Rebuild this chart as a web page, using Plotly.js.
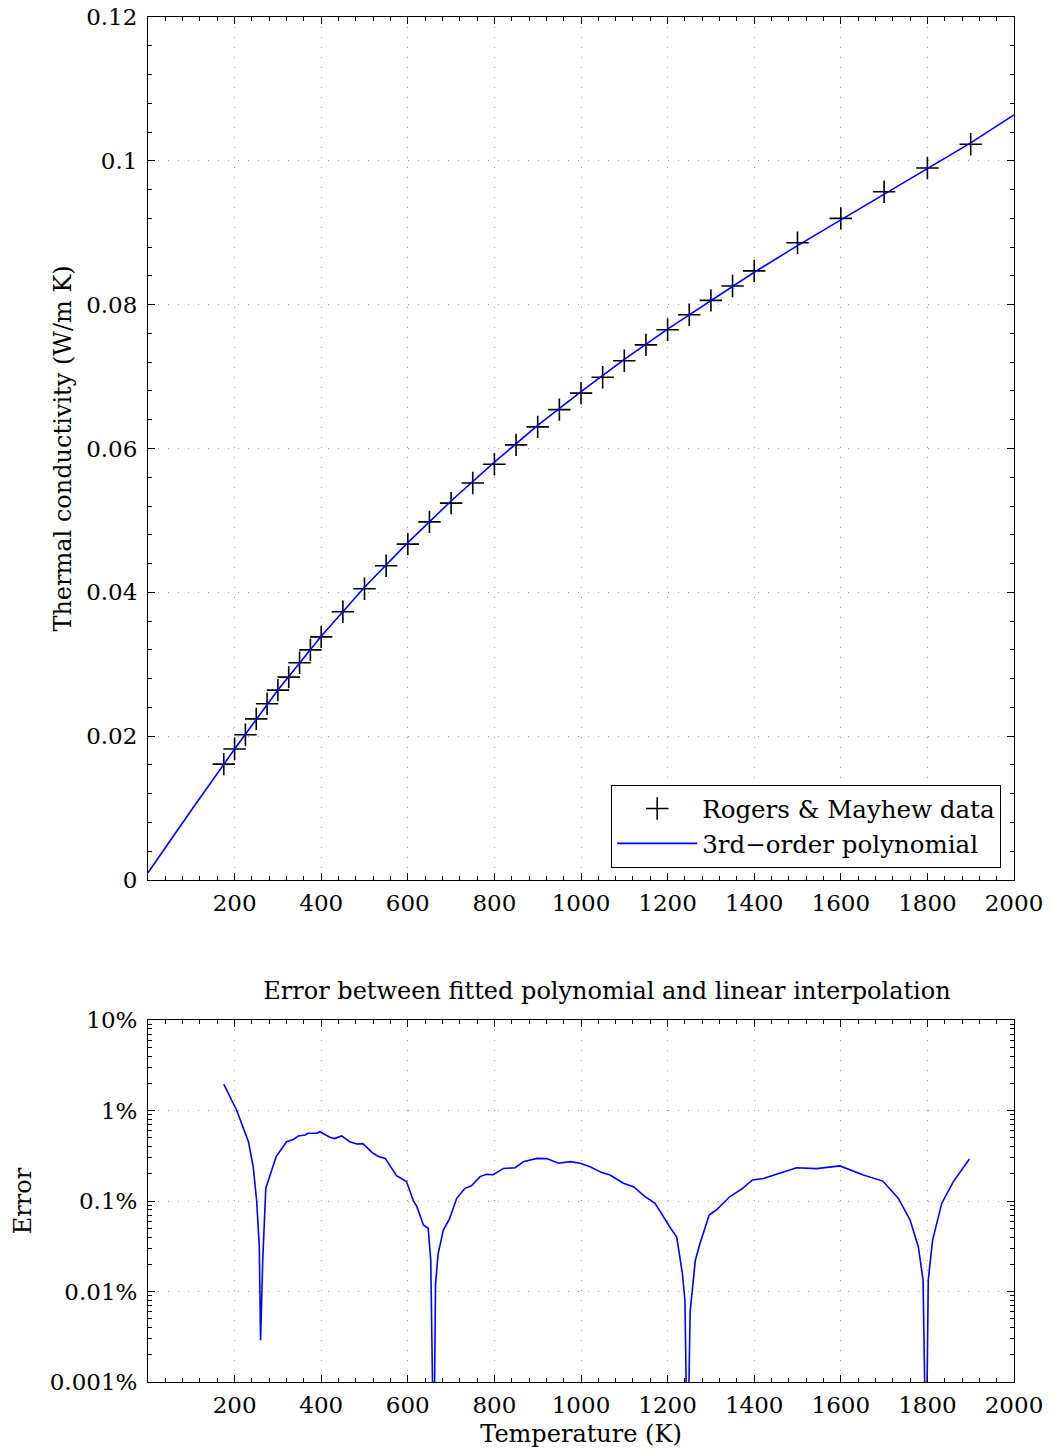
<!DOCTYPE html>
<html>
<head>
<meta charset="utf-8">
<script src="https://cdn.plot.ly/plotly-3.0.1.min.js"></script>
<style>html,body{margin:0;padding:0;background:#fff;}#chart{width:1051px;height:1452px;}</style>
</head>
<body>
<div id="chart"></div>
<script>
// Rogers & Mayhew data (T in K, k in W/m K)
const dataT = [175,200,225,250,275,300,325,350,375,400,450,500,550,600,650,700,750,800,850,900,950,1000,1050,1100,1150,1200,1250,1300,1350,1400,1500,1600,1700,1800,1900];
const dataK = [0.0161,0.0182,0.0202,0.0224,0.0245,0.0264,0.0282,0.0302,0.0320,0.0338,0.0373,0.0405,0.0437,0.0467,0.0498,0.0524,0.0552,0.0578,0.0605,0.0630,0.0654,0.0677,0.0699,0.0722,0.0744,0.0765,0.0786,0.0806,0.0826,0.0847,0.0886,0.0920,0.0957,0.0990,0.1023];

// 3rd-order polynomial curve
const polyT = [0,100,200,300,400,500,600,700,800,900,1000,1100,1200,1300,1400,1500,1600,1700,1800,1900,2000];
const polyK = [0.0010,0.0097,0.0182,0.0264,0.0339,0.0407,0.0469,0.0527,0.0581,0.0632,0.0679,0.0724,0.0766,0.0806,0.0845,0.0882,0.0918,0.0954,0.0989,0.1025,0.1064];

// Error between fitted polynomial and linear interpolation (fraction)
const errT = [175,205,232,243,251,257,260,265,272,296,320,336,347,363,370,390,397,420,431,447,466,482,496,520,532,548,574,597,613,621,636,647,653,660,664,670,682,696,713,732,747,767,782,797,821,848,867,898,921,948,975,998,1021,1048,1067,1098,1121,1148,1171,1196,1207,1221,1229,1234,1240,1246,1252,1259,1264,1275,1280,1296,1313,1344,1371,1396,1421,1460,1498,1544,1598,1652,1697,1733,1760,1779,1790,1797,1802,1812,1833,1860,1897];
const errV = [0.0196,0.0100,0.00452,0.00239,0.00100,0.000313,0.000029,0.000223,0.00138,0.00309,0.00452,0.00479,0.00524,0.00537,0.0056,0.0056,0.00583,0.00506,0.0049,0.00524,0.00452,0.00427,0.0043,0.00337,0.0031,0.00296,0.0019,0.00164,0.00100,0.000865,0.000543,0.0005,0.000223,0.000001,0.00012,0.00026,0.000478,0.00063,0.00107,0.00138,0.00147,0.00186,0.00197,0.00195,0.00229,0.00233,0.00272,0.00296,0.00294,0.00261,0.00272,0.00261,0.00239,0.00206,0.00194,0.00157,0.00144,0.00112,0.00094,0.0006,0.0005,0.0004,0.000243,0.00016,0.00008,0.000001,0.00006,0.000134,0.00022,0.000341,0.0004,0.0007,0.0008,0.00112,0.00135,0.00171,0.00177,0.00202,0.00233,0.00228,0.00244,0.00194,0.00166,0.00107,0.000617,0.000313,0.000134,0.000001,0.000134,0.00037,0.00094,0.00164,0.00291];

const xTickVals = [200,400,600,800,1000,1200,1400,1600,1800,2000];
const kTickVals = [0,0.02,0.04,0.06,0.08,0.1,0.12];
const kTickText = ['0','0.02','0.04','0.06','0.08','0.1','0.12'];
const eTickVals = [1e-5,1e-4,1e-3,1e-2,1e-1];
const eTickText = ['0.001%','0.01%','0.1%','1%','10%'];

const minorLog = [];
for (let d = -5; d < -1; d++) for (let m = 2; m <= 9; m++) minorLog.push(m * Math.pow(10, d));

const FONT = 'DejaVu Serif, serif';
const gridStyle = {showgrid: true, gridcolor: '#9a9a9a', griddash: '1px,9px', gridwidth: 1};
const axisCommon = Object.assign({
  showline: true, linecolor: '#000', linewidth: 1, mirror: 'allticks',
  ticks: 'inside', ticklen: 7, tickwidth: 1, tickcolor: '#000',
  zeroline: false, tickfont: {family: FONT, size: 23, color: '#000'}
}, gridStyle);
const titleFont = {family: FONT, size: 24, color: '#000'};

const traces = [
  {x: dataT, y: dataK, type: 'scatter', mode: 'markers', name: 'Rogers &amp; Mayhew data',
   marker: {symbol: 'cross-thin-open', size: 16, color: '#000', line: {color: '#000', width: 1.6}},
   xaxis: 'x', yaxis: 'y'},
  {x: polyT, y: polyK, type: 'scatter', mode: 'lines', name: '3rd\u2212order polynomial',
   line: {color: '#0000ff', width: 1.6}, xaxis: 'x', yaxis: 'y'},
  {x: errT, y: errV, type: 'scatter', mode: 'lines', showlegend: false,
   line: {color: '#0000ff', width: 1.6}, xaxis: 'x2', yaxis: 'y2'}
];

const layout = {
  width: 1051, height: 1452,
  margin: {l: 148, r: 37, t: 17, b: 70},
  paper_bgcolor: '#fff', plot_bgcolor: '#fff',
  font: {family: FONT, size: 23, color: '#000'},
  showlegend: true,
  legend: {x: 0.985, xanchor: 'right', y: 0.3766, yanchor: 'bottom',
    bgcolor: '#fff', bordercolor: '#000', borderwidth: 1.2,
    font: {family: FONT, size: 24.5, color: '#000'}, itemwidth: 80, tracegroupgap: 0},
  title: {text: 'Error between fitted polynomial and linear interpolation',
    font: titleFont,
    x: 607 / 1051, xanchor: 'center', xref: 'container',
    y: 1 - 991 / 1452, yanchor: 'middle', yref: 'container'},
  xaxis: Object.assign({}, axisCommon, {domain: [0, 1], anchor: 'y', range: [0, 2000],
    tickvals: xTickVals, ticklabelstandoff: 2,
    minor: {dtick: 40, tick0: 0, ticks: 'inside', ticklen: 4, tickcolor: '#000', showgrid: false}}),
  yaxis: Object.assign({}, axisCommon, {domain: [0.3678, 1], anchor: 'x', range: [0, 0.12],
    tickvals: kTickVals, ticktext: kTickText, ticklabelstandoff: 5,
    minor: {dtick: 0.004, tick0: 0, ticks: 'inside', ticklen: 4, tickcolor: '#000', showgrid: false},
    title: {text: 'Thermal conductivity (W/m K)', font: titleFont, standoff: 7}}),
  xaxis2: Object.assign({}, axisCommon, {domain: [0, 1], anchor: 'y2', range: [0, 2000],
    tickvals: xTickVals, ticklabelstandoff: 2,
    minor: {dtick: 40, tick0: 0, ticks: 'inside', ticklen: 4, tickcolor: '#000', showgrid: false},
    title: {text: 'Temperature (K)', font: titleFont, standoff: 8}}),
  yaxis2: Object.assign({}, axisCommon, {domain: [0, 0.2652], anchor: 'x2', type: 'log', range: [-5, -1],
    tickvals: eTickVals, ticktext: eTickText, ticklabelstandoff: 5,
    minor: {tickvals: minorLog, ticks: 'inside', ticklen: 4, tickcolor: '#000', showgrid: false},
    title: {text: 'Error', font: titleFont, standoff: 11}})
};

Plotly.newPlot('chart', traces, layout, {displayModeBar: false, staticPlot: true});
</script>
</body>
</html>
